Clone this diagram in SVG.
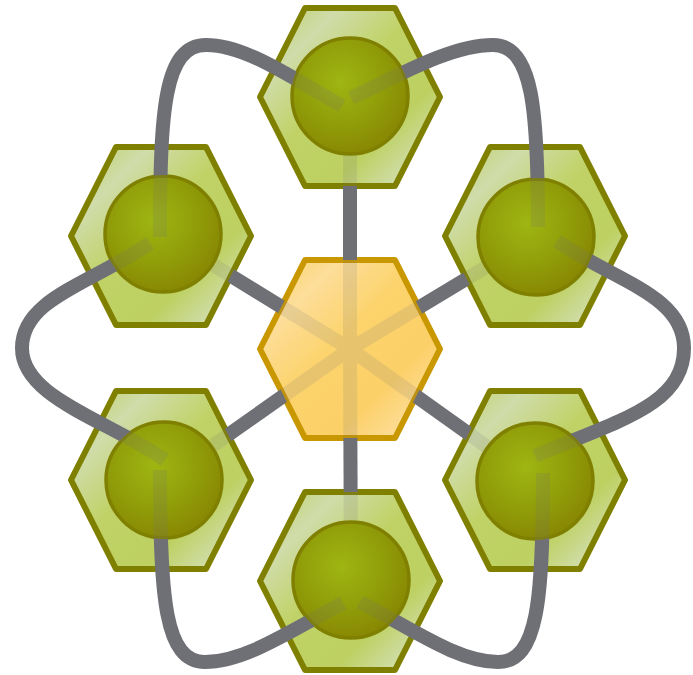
<svg xmlns="http://www.w3.org/2000/svg" xmlns:xlink="http://www.w3.org/1999/xlink" width="693" height="675" viewBox="0 0 693 675">
  <style>
    .hexg { fill: url(#gHexG); stroke: #808000; stroke-width: 6; stroke-linejoin: round; }
    .hexc { fill: url(#gHexC); stroke: #c99700; stroke-width: 6; stroke-linejoin: round; }
    .ball { fill: url(#gBall); stroke: #808000; stroke-width: 3.5; }
    .wire { fill: none; stroke: #6f7076; stroke-width: 14; stroke-linecap: butt; }
  </style>
  <defs>
    <polygon id="hx" points="-90,0 -45,-89 45,-89 90,0 45,89 -45,89"/>
    <linearGradient id="gHexG" x1="0" y1="0" x2="1" y2="1">
      <stop offset="0" stop-color="#bccf60"/>
      <stop offset="0.22" stop-color="#d0dcaa"/>
      <stop offset="0.45" stop-color="#c0d266"/>
      <stop offset="0.7" stop-color="#bdd061"/>
      <stop offset="0.88" stop-color="#d2deae"/>
      <stop offset="1" stop-color="#c8d88a"/>
    </linearGradient>
    <linearGradient id="gHexC" x1="0" y1="0" x2="1" y2="1">
      <stop offset="0" stop-color="#fcd15e"/>
      <stop offset="0.22" stop-color="#fdde9a"/>
      <stop offset="0.45" stop-color="#fcd36c"/>
      <stop offset="0.7" stop-color="#fcd068"/>
      <stop offset="0.88" stop-color="#fddd98"/>
      <stop offset="1" stop-color="#fcd470"/>
    </linearGradient>
    <radialGradient id="gBall" cx="0.42" cy="0.38" r="0.75">
      <stop offset="0" stop-color="#9eb612"/>
      <stop offset="0.55" stop-color="#8f9a08"/>
      <stop offset="1" stop-color="#857e00"/>
    </radialGradient>
    <mask id="mSpoke" maskUnits="userSpaceOnUse" x="0" y="0" width="693" height="675">
      <rect x="0" y="0" width="693" height="675" fill="#ffffff"/>
      <g fill="#262626">
        <use xlink:href="#hx" x="350" y="349"/>
        <use xlink:href="#hx" x="350" y="97"/>
        <use xlink:href="#hx" x="161" y="236"/>
        <use xlink:href="#hx" x="535" y="236"/>
        <use xlink:href="#hx" x="161" y="480"/>
        <use xlink:href="#hx" x="535" y="480"/>
        <use xlink:href="#hx" x="350" y="581"/>
      </g>
      <g fill="#000000">
        <circle cx="350" cy="96" r="60"/>
        <circle cx="163" cy="234" r="60"/>
        <circle cx="536" cy="237" r="60"/>
        <circle cx="164" cy="480" r="60"/>
        <circle cx="535" cy="481" r="60"/>
        <circle cx="351" cy="580" r="60"/>
      </g>
    </mask>
    <mask id="mCurve" maskUnits="userSpaceOnUse" x="0" y="0" width="693" height="675">
      <rect x="0" y="0" width="693" height="675" fill="#ffffff"/>
      <g fill="#2e2e2e">
        <circle cx="350" cy="96" r="59"/>
        <circle cx="163" cy="234" r="59"/>
        <circle cx="536" cy="237" r="59"/>
        <circle cx="164" cy="480" r="59"/>
        <circle cx="535" cy="481" r="59"/>
        <circle cx="351" cy="580" r="59"/>
      </g>
    </mask>
  </defs>

  <rect x="0" y="0" width="693" height="675" fill="#ffffff"/>

  <g id="node-center">
    <use xlink:href="#hx" x="350" y="349" class="hexc"/>
  </g>
  <g id="node-top">
    <use xlink:href="#hx" x="350" y="97" class="hexg"/>
    <circle cx="350" cy="96" r="58" class="ball"/>
  </g>
  <g id="node-upper-left">
    <use xlink:href="#hx" x="161" y="236" class="hexg"/>
    <circle cx="163" cy="234" r="58" class="ball"/>
  </g>
  <g id="node-upper-right">
    <use xlink:href="#hx" x="535" y="236" class="hexg"/>
    <circle cx="536" cy="237" r="58" class="ball"/>
  </g>
  <g id="node-lower-left">
    <use xlink:href="#hx" x="161" y="480" class="hexg"/>
    <circle cx="164" cy="480" r="58" class="ball"/>
  </g>
  <g id="node-lower-right">
    <use xlink:href="#hx" x="535" y="480" class="hexg"/>
    <circle cx="535" cy="481" r="58" class="ball"/>
  </g>
  <g id="node-bottom">
    <use xlink:href="#hx" x="350" y="581" class="hexg"/>
    <circle cx="351" cy="580" r="58" class="ball"/>
  </g>

  <g id="connectors">
    <g id="spokes" mask="url(#mSpoke)">
      <line class="wire" x1="350" y1="349" x2="350" y2="96"/>
      <line class="wire" x1="350" y1="349" x2="163" y2="234"/>
      <line class="wire" x1="350" y1="349" x2="536" y2="237"/>
      <line class="wire" x1="350" y1="349" x2="164" y2="480"/>
      <line class="wire" x1="350" y1="349" x2="535" y2="481"/>
      <line class="wire" x1="350" y1="349" x2="351" y2="580"/>
    </g>
    <g id="ring" mask="url(#mCurve)">
      <path class="wire" d="M160,237 C160,110 164,45 206,45 C246,45 292,78 342,106"/>
      <path class="wire" d="M538,227 C538,110 533,45 493,45 C453,45 405,72 351,98"/>
      <path class="wire" d="M150,243 C93,283 22,298 22,348 C22,398 108,420 165,460"/>
      <path class="wire" d="M557,241 C614,281 684,295 684,348 C684,405 620,420 535,456"/>
      <path class="wire" d="M160,470 C160,600 165,662 205,662 C245,662 290,631 343,603"/>
      <path class="wire" d="M543,473 C543,600 538,662 498,662 C458,662 414,630 360,602"/>
    </g>
  </g>
</svg>
